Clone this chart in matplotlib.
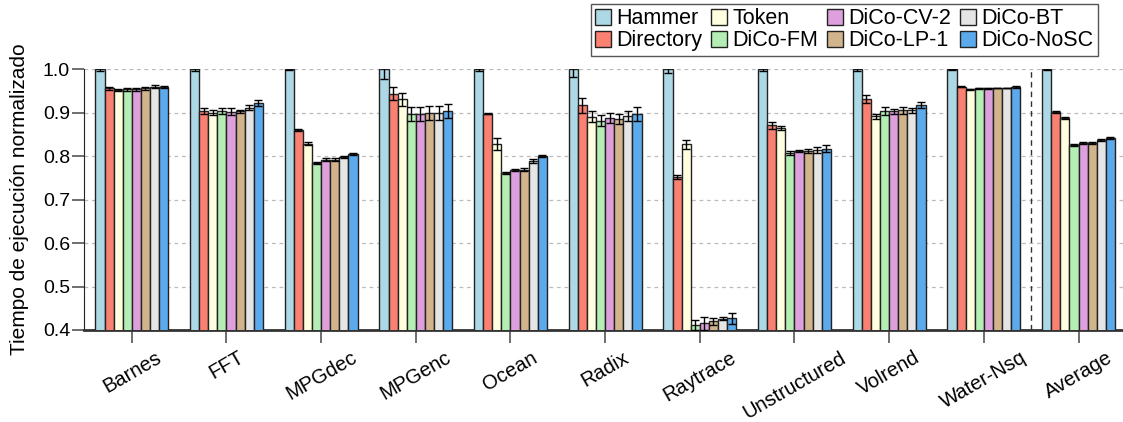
import numpy as np
import matplotlib
matplotlib.use("Agg")
import matplotlib.pyplot as plt

plt.rcParams["font.family"] = ["Liberation Sans", "DejaVu Sans"]

# datos
benchmarks = ["Barnes", "FFT", "MPGdec", "MPGenc", "Ocean", "Radix",
              "Raytrace", "Unstructured", "Volrend", "Water-Nsq", "Average"]
series = ["Hammer", "Directory", "Token", "DiCo-FM",
          "DiCo-CV-2", "DiCo-LP-1", "DiCo-BT", "DiCo-NoSC"]

hammer = [1.0, 1.0, 1.0, 1.0, 1.0, 1.0, 1.0, 1.0, 1.0, 1.0, 1.0]
directory = [0.956, 0.904, 0.861, 0.944, 0.898, 0.917, 0.752, 0.871, 0.932, 0.960, 0.901]
token = [0.952, 0.900, 0.829, 0.931, 0.829, 0.891, 0.827, 0.865, 0.892, 0.954, 0.888]
dico_fm = [0.954, 0.903, 0.784, 0.897, 0.761, 0.882, 0.412, 0.807, 0.904, 0.956, 0.826]
dico_cv2 = [0.954, 0.902, 0.792, 0.898, 0.769, 0.888, 0.416, 0.812, 0.903, 0.956, 0.830]
dico_lp1 = [0.956, 0.903, 0.792, 0.900, 0.769, 0.885, 0.420, 0.812, 0.906, 0.957, 0.830]
dico_bt = [0.960, 0.912, 0.798, 0.900, 0.789, 0.893, 0.426, 0.815, 0.906, 0.957, 0.837]
dico_nosc = [0.959, 0.923, 0.805, 0.903, 0.800, 0.897, 0.427, 0.817, 0.917, 0.960, 0.842]

hammer_err = [0.003, 0.003, 0.002, 0.023, 0.003, 0.017, 0.008, 0.003, 0.004, 0.001, 0.002]
directory_err = [0.003, 0.006, 0.002, 0.015, 0.002, 0.017, 0.005, 0.008, 0.009, 0.001, 0.002]
token_err = [0.003, 0.006, 0.003, 0.015, 0.014, 0.012, 0.011, 0.004, 0.006, 0.001, 0.002]
dico_fm_err = [0.003, 0.007, 0.002, 0.016, 0.002, 0.012, 0.012, 0.005, 0.009, 0.001, 0.002]
dico_cv2_err = [0.003, 0.008, 0.003, 0.016, 0.002, 0.012, 0.015, 0.003, 0.006, 0.001, 0.002]
dico_lp1_err = [0.003, 0.004, 0.003, 0.016, 0.003, 0.012, 0.008, 0.004, 0.008, 0.001, 0.002]
dico_bt_err = [0.004, 0.006, 0.002, 0.016, 0.005, 0.012, 0.004, 0.007, 0.006, 0.001, 0.002]
dico_nosc_err = [0.003, 0.007, 0.002, 0.016, 0.002, 0.017, 0.013, 0.008, 0.007, 0.002, 0.002]

valores = [hammer, directory, token, dico_fm, dico_cv2, dico_lp1, dico_bt, dico_nosc]
errores = [hammer_err, directory_err, token_err, dico_fm_err,
           dico_cv2_err, dico_lp1_err, dico_bt_err, dico_nosc_err]
colores = ["#ADD8E6", "#FA8072", "#FFFFE0", "#B4EEB4",
           "#DDA0DD", "#D2B48C", "#E5E5E5", "#5AAAEC"]

fig = plt.figure(figsize=(11.23, 4.22), dpi=100)
ax = fig.add_axes([84 / 1123, 92 / 422, 1039 / 1123, 260.7 / 422])

x = np.arange(len(benchmarks))
ancho = 0.096
n = len(series)
for i, (nombre, v, e, c) in enumerate(zip(series, valores, errores, colores)):
    pos = x + (i - (n - 1) / 2) * ancho
    ax.bar(pos, v, ancho, color=c, edgecolor="#222222", linewidth=1.0,
           label=nombre, zorder=3)
    ax.errorbar(pos, v, yerr=e, fmt="none", ecolor="black", elinewidth=1,
                capsize=3, capthick=1, zorder=4)

ax.set_xlim(-0.505, 10.47)
ax.set_ylim(0.4, 1.0)
ax.set_yticks([0.4, 0.5, 0.6, 0.7, 0.8, 0.9, 1.0])
ax.set_xticks(x)
ax.set_xticklabels(benchmarks, rotation=30, ha="center")

ax.yaxis.grid(True, linestyle=(0, (3, 3)), color="#bbbbbb", linewidth=0.9)
ax.set_axisbelow(True)
ax.axvline(9.5, color="#333333", linestyle=(0, (4, 3)), linewidth=1, zorder=2)

for lado in ["top", "right"]:
    ax.spines[lado].set_visible(False)
ax.spines["left"].set_color("#222222")
ax.spines["bottom"].set_color("#333333")
ax.spines["bottom"].set_linewidth(2)

ax.tick_params(axis="y", direction="out", length=9, width=1.2,
               color="#555555", labelsize=14, pad=1)
ax.tick_params(axis="x", direction="out", length=9, width=1.2,
               color="#555555", labelsize=14.5, pad=4)
ax.set_ylabel("Tiempo de ejecución normalizado", fontsize=15, labelpad=10)

handles, labels = ax.get_legend_handles_labels()
fig.legend(handles, labels, ncol=4, loc="upper right",
           bbox_to_anchor=(1098 / 1123, 1 - 4 / 422), fontsize=15.5,
           fancybox=False, edgecolor="#555555", framealpha=1,
           borderpad=0.2, handlelength=0.75, handleheight=0.75,
           handletextpad=0.25, columnspacing=0.4, labelspacing=0.05,
           borderaxespad=0)

fig.savefig("out.png", dpi=100)
